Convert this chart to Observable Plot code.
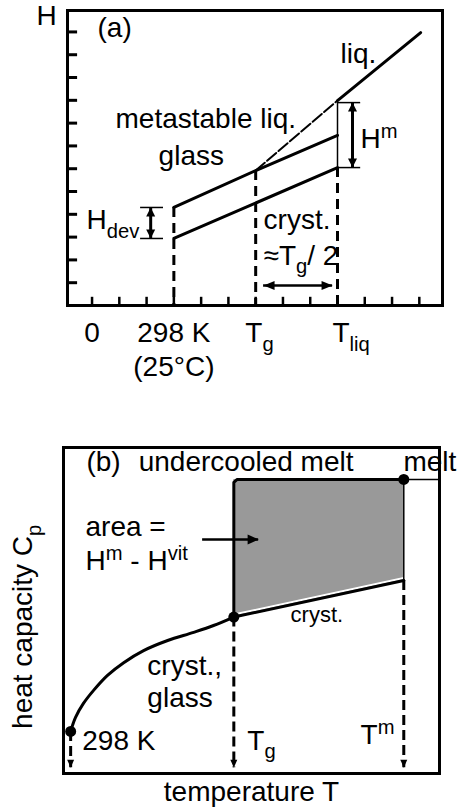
<!DOCTYPE html>
<html><head><meta charset="utf-8">
<script src="https://cdn.jsdelivr.net/npm/d3@7"></script>
<script src="https://cdn.jsdelivr.net/npm/@observablehq/plot@0.6"></script>
<style>
body{margin:0;background:#fff;}
#wrap{position:relative;width:460px;height:809px;}
#wrap svg{position:absolute;left:0;overflow:visible;}
</style></head><body><div id="wrap"></div>
<script>
const FONT = '"Liberation Sans", Arial, Helvetica, sans-serif';

// ---------- Panel (a): enthalpy H vs temperature ----------
const aXTicks = [0,1,2,3,4,5,6,7,8,9,10,11,12];
const aYTicks = [1,2,3,4,5,6,7,8,9,10,11,12];
const aXLabelPos  = [0, 3, 6.14, 9.5];
const aXLabelText = ["0", "298 K\n(25°C)", "T_{g}", "T_{liq}"];
const aGlass     = [[3, 4.30], [6, 5.92], [9, 7.46]];
const aLiqDashed = [[6, 5.92], [9, 8.99]];
const aLiqSolid  = [[9, 8.99], [12.05, 11.97]];
const aCryst     = [[3, 2.94], [9, 6.05]];
const aDropX   = [3, 6, 9];
const aDropTop = [4.30, 5.92, 6.05];
const aHdev = {x: 2.15, lo: 2.94, hi: 4.30, cap1: 1.78, cap2: 2.62};
const aHm   = {x: 9.55, lo: 6.05, hi: 8.90, cap1: 9.0, cap2: 9.85};
const aHalf = {y: 0.88, x1: 6.29, x2: 8.82};
const aLabels = [
  {x: 0.2,  y: 12.15, t: "(a)"},
  {x: 9.11, y: 11.05, t: "liq."},
  {x: 0.86, y: 8.2,   t: "metastable liq."},
  {x: 2.44, y: 6.54,  t: "glass"},
  {x: -0.2, y: 3.73,  t: "H_{dev}"},
  {x: 9.84, y: 7.32,  t: "H^{m}"},
  {x: 6.29, y: 3.73,  t: "cryst."},
  {x: 6.29, y: 2.19,  t: "≈T_{g}/ 2"}
];

// ---------- Panel (b): heat capacity Cp vs temperature ----------
const bCurve = [[0.19,1.29],[0.32,1.72],[0.53,2.15],[0.80,2.55],[1.17,3.01],[1.60,3.40],
                [2.13,3.77],[2.77,4.08],[3.46,4.33],[3.99,4.54],[4.53,4.80]];
const bCryst = [[4.53, 4.80], [9.05, 5.92]];
const bArea  = [{x: 4.53, y1: 4.80, y2: 9.02}, {x: 9.05, y1: 5.92, y2: 9.02}];
const bOutline = [[4.53, 4.80], [4.53, 8.93], [4.62, 9.02], [9.05, 9.02]];
const bMeltLevel = 9.02;
const bDropX   = [0.19, 4.53, 9.05];
const bDropTop = [1.29, 4.80, 5.92];
const bDots = [[0.19, 1.29], [4.53, 4.80], [9.05, 9.02]];
const bAreaArrow = {y: 7.18, x1: 3.70, x2: 5.19};
const bLabels = [
  {x: 0.61, y: 9.54, t: "(b)"},
  {x: 2.0,  y: 9.54, t: "undercooled melt"},
  {x: 9.04, y: 9.54, t: "melt"},
  {x: 0.585, y: 7.55, t: "area ="},
  {x: 0.585, y: 6.53, t: "H^{m} - H^{vit}"},
  {x: 2.23, y: 3.31, t: "cryst.,"},
  {x: 2.23, y: 2.30, t: "glass"},
  {x: 0.5,  y: 1.01, t: "298 K"},
  {x: 4.89, y: 1.01, t: "T_{g}"},
  {x: 7.9,  y: 1.17, t: "T^{m}"}
];
const bSmallLabels = [{x: 6.04, y: 4.85, t: "cryst."}];

// arrow-head symbol with its tip at the anchor point
function head(angle, len, half) {
  return {draw(ctx, size) {
    const c = Math.cos(angle), s = Math.sin(angle);
    const p = [[0,0],[-len,-half],[-len,half]].map(([x,y]) => [x*c - y*s, x*s + y*c]);
    ctx.moveTo(p[0][0], p[0][1]); ctx.lineTo(p[1][0], p[1][1]); ctx.lineTo(p[2][0], p[2][1]); ctx.closePath();
  }};
}
const UP = head(-Math.PI/2, 9, 4.5), DOWN = head(Math.PI/2, 9, 4.5);
const LEFT = head(Math.PI, 11, 4.5), RIGHT = head(0, 11, 4.5);
const DOWNs = head(Math.PI/2, 8, 3.5), RIGHTb = head(0, 11, 5);

const xs = d => d[0], ys = d => d[1];

const aXDom = [-0.9, 12.85], aYDom = [0, 12.94];
const plotA = Plot.plot({
  width: 460, height: 380,
  marginLeft: 67, marginRight: 18, marginTop: 10, marginBottom: 75,
  x: {domain: aXDom, axis: null},
  y: {domain: aYDom, axis: null},
  style: {fontFamily: FONT, fontSize: "28px", color: "black", background: "white", overflow: "visible"},
  marks: [
    Plot.ruleY(aYTicks, {x1: aXDom[0], x2: aXDom[0] + 0.37, stroke: "black", strokeWidth: 3}),
    Plot.ruleX(aXTicks, {y1: 0, y2: 0.36, stroke: "black", strokeWidth: 2.5}),
    Plot.ruleX(aDropX, {x: d => d, y1: (d, i) => aDropTop[i], y2: 0, stroke: "black", strokeWidth: 3, strokeDasharray: "10,6"}),
    Plot.line(aGlass, {x: xs, y: ys, stroke: "black", strokeWidth: 3}),
    Plot.line(aCryst, {x: xs, y: ys, stroke: "black", strokeWidth: 3}),
    Plot.line(aLiqDashed, {x: xs, y: ys, stroke: "black", strokeWidth: 2, strokeDasharray: "12,3"}),
    Plot.line(aLiqSolid, {x: xs, y: ys, stroke: "black", strokeWidth: 3}),
    // H_dev bracket
    Plot.ruleY([aHdev.lo, aHdev.hi], {x1: aHdev.cap1, x2: aHdev.cap2, stroke: "black", strokeWidth: 1.5}),
    Plot.ruleX([aHdev.x], {y1: aHdev.lo, y2: aHdev.hi, stroke: "black", strokeWidth: 3}),
    Plot.dot([[aHdev.x, aHdev.hi]], {x: xs, y: ys, symbol: UP, fill: "black", stroke: null, r: 5}),
    Plot.dot([[aHdev.x, aHdev.lo]], {x: xs, y: ys, symbol: DOWN, fill: "black", stroke: null, r: 5}),
    // H^m bracket
    Plot.ruleY([aHm.lo, aHm.hi], {x1: aHm.cap1, x2: aHm.cap2, stroke: "black", strokeWidth: 1.5}),
    Plot.ruleX([aHm.cap1], {y1: aHm.lo, y2: aHm.hi, stroke: "black", strokeWidth: 1.5}),
    Plot.ruleX([aHm.x], {y1: aHm.lo, y2: aHm.hi, stroke: "black", strokeWidth: 3}),
    Plot.dot([[aHm.x, aHm.hi]], {x: xs, y: ys, symbol: UP, fill: "black", stroke: null, r: 5}),
    Plot.dot([[aHm.x, aHm.lo]], {x: xs, y: ys, symbol: DOWN, fill: "black", stroke: null, r: 5}),
    // ~Tg/2 arrow
    Plot.ruleY([aHalf.y], {x1: aHalf.x1, x2: aHalf.x2, stroke: "black", strokeWidth: 2.5}),
    Plot.dot([[aHalf.x1, aHalf.y]], {x: xs, y: ys, symbol: LEFT, fill: "black", stroke: null, r: 5}),
    Plot.dot([[aHalf.x2, aHalf.y]], {x: xs, y: ys, symbol: RIGHT, fill: "black", stroke: null, r: 5}),
    Plot.frame({stroke: "black", strokeWidth: 3}),
    Plot.text(aLabels, {x: "x", y: "y", text: "t", textAnchor: "start", fill: "black"}),
    Plot.text(aXLabelPos, {x: d => d, y: 0, text: (d, i) => aXLabelText[i], lineAnchor: "top", dy: 13, lineHeight: 1.2, fill: "black"}),
    Plot.text(["H"], {frameAnchor: "top-left", lineAnchor: "middle", dx: -31, dy: 6, fill: "black"})
  ]
});

const plotB = Plot.plot({
  width: 460, height: 409,
  marginLeft: 63, marginRight: 21, marginTop: 47, marginBottom: 36,
  x: {domain: [0, 10], axis: null},
  y: {domain: [0, 10], axis: null},
  style: {fontFamily: FONT, fontSize: "28px", color: "black", background: "white", overflow: "visible"},
  marks: [
    Plot.areaY(bArea, {x: "x", y1: "y1", y2: "y2", fill: "#999999"}),
    Plot.line(bCryst, {x: xs, y: ys, stroke: "white", strokeWidth: 2, dy: -2.5}),
    Plot.ruleX([bDropX[2]], {y1: bDropTop[2], y2: bMeltLevel, stroke: "black", strokeWidth: 1.5}),
    Plot.ruleY([bMeltLevel], {x1: bDropX[2], x2: 10, stroke: "black", strokeWidth: 1.5}),
    Plot.line(bOutline, {x: xs, y: ys, stroke: "black", strokeWidth: 3}),
    Plot.line(bCryst, {x: xs, y: ys, stroke: "black", strokeWidth: 3}),
    Plot.line(bCurve, {x: xs, y: ys, stroke: "black", strokeWidth: 3, curve: "catmull-rom"}),
    Plot.ruleX(bDropX, {x: d => d, y1: (d, i) => bDropTop[i], y2: 0.18, stroke: "black", strokeWidth: 3, strokeDasharray: "10,5"}),
    Plot.dot(bDropX, {x: d => d, y: 0.18, symbol: DOWNs, fill: "black", stroke: null, r: 5}),
    Plot.ruleY([bAreaArrow.y], {x1: bAreaArrow.x1, x2: bAreaArrow.x2, stroke: "black", strokeWidth: 2.5}),
    Plot.dot([[bAreaArrow.x2, bAreaArrow.y]], {x: xs, y: ys, symbol: RIGHTb, fill: "black", stroke: null, r: 5}),
    Plot.dot(bDots, {x: xs, y: ys, r: 5.5, fill: "black", stroke: null}),
    Plot.frame({stroke: "black", strokeWidth: 3}),
    Plot.text(bLabels, {x: "x", y: "y", text: "t", textAnchor: "start", fill: "black"}),
    Plot.text(bSmallLabels, {x: "x", y: "y", text: "t", textAnchor: "start", fill: "black", fontSize: 22}),
    Plot.text(["temperature T"], {frameAnchor: "bottom", lineAnchor: "middle", dy: 19, fill: "black"}),
    Plot.text(["heat capacity C_{p}"], {x: 0, y: 4.5, dx: -40, rotate: -90, fill: "black"})
  ]
});

const wrap = document.getElementById("wrap");
plotA.style.top = "0px";
plotB.style.top = "400px";
wrap.appendChild(plotA);
wrap.appendChild(plotB);

// rich text: T_{g} -> subscript, H^{m} -> superscript
function richText(svg) {
  const nodes = Array.from(svg.querySelectorAll("text, tspan"));
  for (const el of nodes) {
    if (el.children.length) continue;
    const s = el.textContent;
    if (!/[_^]\{/.test(s)) continue;
    const fs = parseFloat(getComputedStyle(el).fontSize) || 28;
    const parts = []; let last = 0, m; const re = /([_^])\{([^}]*)\}/g;
    while ((m = re.exec(s))) {
      if (m.index > last) parts.push([0, s.slice(last, m.index)]);
      parts.push([m[1] === "_" ? 1 : -1, m[2]]);
      last = re.lastIndex;
    }
    if (last < s.length) parts.push([0, s.slice(last)]);
    el.textContent = "";
    let cur = 0;
    for (const [k, t] of parts) {
      const ts = document.createElementNS("http://www.w3.org/2000/svg", "tspan");
      const target = k === 1 ? 0.3 * fs : k === -1 ? -0.36 * fs : 0;
      if (target !== cur) ts.setAttribute("dy", target - cur);
      cur = target;
      if (k) ts.setAttribute("font-size", (0.72 * fs).toFixed(1));
      ts.textContent = t;
      el.appendChild(ts);
    }
  }
}
richText(plotA);
richText(plotB);
</script></body></html>
